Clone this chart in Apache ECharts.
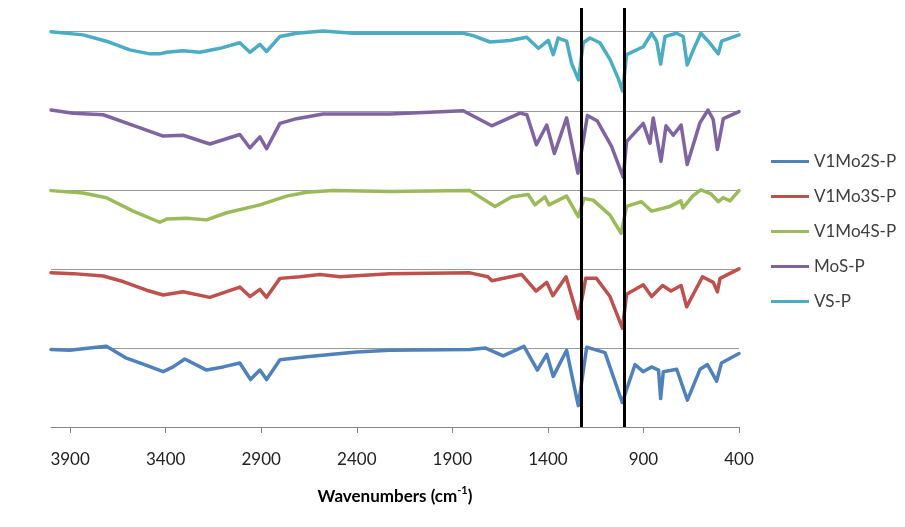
<!DOCTYPE html>
<html>
<head>
<meta charset="utf-8">
<script src="https://cdn.jsdelivr.net/npm/echarts@6/dist/echarts.min.js"></script>
<style>
html,body{margin:0;padding:0;background:#fff;}
#chart{width:905px;height:527px;}
</style>
</head>
<body>
<div id="chart"></div>
<script>
// Series names (legend order)
const seriesNames = ['V1Mo2S-P', 'V1Mo3S-P', 'V1Mo4S-P', 'MoS-P', 'VS-P'];
const seriesColors = ['#4F81BD', '#C0504D', '#9BBB59', '#8064A2', '#4BACC6'];

// X tick labels (wavenumbers)
const xTicks = [400, 900, 1400, 1900, 2400, 2900, 3400, 3900];

// Reference band positions (cm-1)
const refLines = [1228, 1002];

// Spectra: [wavenumber, offset transmittance]
const v1mo2s = [[4000,0.98],[3902,0.97],[3797,1.00],[3710,1.02],[3605,0.87],[3500,0.78],[3413,0.70],[3361,0.76],[3300,0.86],[3186,0.72],[3099,0.76],[3012,0.81],[2956,0.60],[2907,0.72],[2872,0.60],[2802,0.85],[2663,0.89],[2401,0.95],[2227,0.97],[1808,0.98],[1729,1.00],[1634,0.90],[1525,1.02],[1455,0.72],[1406,0.92],[1372,0.64],[1302,0.97],[1241,0.27],[1197,1.01],[1101,0.94],[1011,0.31],[944,0.79],[902,0.70],[858,0.76],[821,0.72],[810,0.36],[796,0.70],[726,0.73],[670,0.34],[604,0.73],[565,0.79],[517,0.58],[492,0.81],[400,0.93]];

const v1mo3s = [[4000,1.95],[3884,1.94],[3727,1.91],[3623,1.84],[3500,1.73],[3413,1.67],[3309,1.71],[3169,1.64],[3012,1.77],[2959,1.65],[2907,1.74],[2872,1.64],[2802,1.88],[2698,1.90],[2593,1.93],[2488,1.90],[2227,1.94],[1808,1.95],[1714,1.90],[1693,1.85],[1538,1.93],[1462,1.72],[1406,1.83],[1374,1.66],[1305,1.90],[1241,1.37],[1202,1.88],[1146,1.88],[1075,1.65],[1010,1.25],[988,1.68],[901,1.80],[857,1.65],[800,1.79],[756,1.72],[703,1.79],[674,1.52],[591,1.90],[535,1.83],[513,1.71],[499,1.88],[400,2.00]];

const v1mo4s = [[4000,2.99],[3832,2.96],[3710,2.90],[3570,2.73],[3431,2.59],[3395,2.63],[3291,2.64],[3186,2.62],[3081,2.71],[2907,2.81],[2767,2.92],[2663,2.97],[2523,2.99],[2227,2.98],[1808,2.99],[1677,2.79],[1591,2.91],[1503,2.94],[1468,2.81],[1415,2.91],[1394,2.81],[1302,2.92],[1241,2.66],[1211,2.89],[1163,2.87],[1075,2.68],[1017,2.45],[988,2.79],[910,2.85],[857,2.73],[761,2.79],[704,2.86],[693,2.77],[643,2.92],[600,3.00],[547,2.95],[508,2.85],[482,2.90],[447,2.86],[400,2.99]];

const mos = [[4000,4.01],[3884,3.97],[3727,3.95],[3552,3.80],[3413,3.68],[3309,3.69],[3169,3.58],[3012,3.70],[2959,3.53],[2907,3.67],[2872,3.52],[2802,3.84],[2715,3.90],[2576,3.96],[2227,3.96],[1843,4.00],[1694,3.81],[1546,3.97],[1510,3.95],[1460,3.57],[1406,3.82],[1366,3.46],[1302,3.91],[1243,3.21],[1193,3.94],[1141,3.87],[1067,3.55],[1006,3.16],[988,3.61],[901,3.84],[866,3.59],[849,3.91],[808,3.36],[782,3.81],[744,3.69],[703,3.82],[671,3.32],[604,3.85],[562,4.01],[535,3.89],[513,3.51],[482,3.90],[400,3.99]];

const vs = [[4000,5.00],[3832,4.96],[3710,4.88],[3588,4.77],[3483,4.72],[3431,4.72],[3395,4.74],[3309,4.76],[3221,4.74],[3116,4.79],[3012,4.86],[2959,4.74],[2907,4.84],[2872,4.75],[2802,4.94],[2715,4.98],[2577,5.01],[2420,4.98],[1843,4.98],[1791,4.95],[1703,4.87],[1599,4.89],[1511,4.93],[1450,4.79],[1398,4.89],[1372,4.71],[1346,4.92],[1302,4.88],[1276,4.60],[1240,4.39],[1215,4.86],[1180,4.92],[1128,4.86],[1075,4.65],[1032,4.41],[1009,4.25],[988,4.71],[901,4.81],[857,4.98],[831,4.88],[810,4.59],[787,4.94],[726,4.98],[692,4.94],[671,4.58],[639,4.77],[600,4.98],[561,4.88],[508,4.72],[491,4.88],[400,4.96]];

const allData = [v1mo2s, v1mo3s, v1mo4s, mos, vs];

const FONT = 'Lato';
const chart = echarts.init(document.getElementById('chart'), null, {renderer: 'canvas'});

const series = allData.map((d, i) => ({
  name: seriesNames[i],
  type: 'line',
  data: d,
  showSymbol: false,
  symbol: 'none',
  smooth: false,
  clip: true,
  lineStyle: {width: 3.5, color: seriesColors[i], join: 'round', cap: 'round'},
  itemStyle: {color: seriesColors[i]},
  emphasis: {disabled: true},
  z: 2
}));

series.push({
  name: 'refs',
  type: 'line',
  data: [],
  z: 10,
  silent: true,
  markLine: {
    silent: true,
    symbol: ['none', 'none'],
    label: {show: false},
    lineStyle: {color: '#000', width: 3, type: 'solid'},
    emphasis: {disabled: true},
    data: refLines.map(v => ({xAxis: v}))
  }
});

chart.setOption({
  animation: false,
  backgroundColor: '#fff',
  grid: {left: 51, right: 166, top: 8, bottom: 100, containLabel: false},
  legend: {
    data: seriesNames,
    orient: 'vertical',
    left: 766,
    top: 148,
    icon: 'rect',
    itemWidth: 38,
    itemHeight: 3,
    itemGap: 18,
    textStyle: {fontFamily: FONT, fontSize: 17, color: '#404040', lineHeight: 17},
    selectedMode: false
  },
  xAxis: {
    type: 'value',
    inverse: true,
    min: 400,
    max: 4000,
    interval: 500,
    name: '{a|Wavenumbers (cm}{b|-1}{a|)}',
    nameLocation: 'middle',
    nameGap: 58,
    nameTextStyle: {
      rich: {
        a: {fontFamily: FONT, fontSize: 17, fontWeight: 'bold', color: '#000', lineHeight: 20, verticalAlign: 'bottom'},
        b: {fontFamily: FONT, fontSize: 11, fontWeight: 'bold', color: '#000', lineHeight: 12, verticalAlign: 'top'}
      }
    },
    axisLine: {show: true, onZero: false, lineStyle: {color: '#868686', width: 1}},
    axisTick: {show: true, inside: false, length: 6, lineStyle: {color: '#868686'}, customValues: xTicks},
    axisLabel: {fontFamily: FONT, fontSize: 17, color: '#222', margin: 24, customValues: xTicks, formatter: v => String(v)},
    splitLine: {show: false}
  },
  yAxis: {
    type: 'value',
    min: 0,
    max: 5.3,
    interval: 1,
    axisLine: {show: false},
    axisTick: {show: false},
    axisLabel: {show: false},
    splitLine: {show: true, showMinLine: false, showMaxLine: false, lineStyle: {color: '#9a9a9a', width: 1}}
  },
  series: series
});
</script>
</body>
</html>
